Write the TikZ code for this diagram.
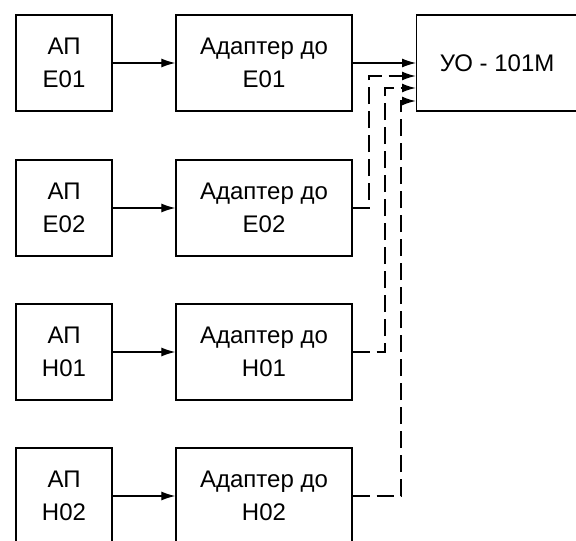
\documentclass[tikz,border=0pt]{standalone}
\usepackage{fontspec}
\setmainfont{Liberation Sans}
\usetikzlibrary{arrows.meta,calc}

\begin{document}
\begin{tikzpicture}[
    x=1pt, y=-1pt,
    block/.style={draw=black, line width=1.3pt, rectangle, minimum height=96pt, inner sep=0pt, align=center, font=\fontsize{24}{33}\selectfont},
    apbox/.style={block, minimum width=96pt},
    adbox/.style={block, minimum width=176pt},
    link/.style={-{Latex[length=14pt,width=9pt]}, line width=1.2pt},
    dlink/.style={link, line width=1.8pt, dash pattern=on 17pt off 7pt}
]
\useasboundingbox (0,0) rectangle (576,541);

% Sources
\node[apbox] (ape01) at (64,63) {АП\\E01};
\node[apbox] (ape02) at (64,208) {АП\\E02};
\node[apbox] (aph01) at (64,352) {АП\\H01};
\node[apbox] (aph02) at (64,496) {АП\\H02};

% Adapters
\node[adbox] (ade01) at (264,63) {Адаптер до\\E01};
\node[adbox] (ade02) at (264,208) {Адаптер до\\E02};
\node[adbox] (adh01) at (264,352) {Адаптер до\\H01};
\node[adbox] (adh02) at (264,496) {Адаптер до\\H02};

% Receiver
\node[block, minimum width=162pt, anchor=west] (uo) at (416,63) {\hspace*{-1pt}УО - 101М};

% Links
\draw[link] (ape01) -- (ade01);
\draw[link] (ape02) -- (ade02);
\draw[link] (aph01) -- (adh01);
\draw[link] (aph02) -- (adh02);
\draw[link] (ade01) -- (uo.west);
\draw[dlink] (ade02.east) -- ++(16,0) |- ($(uo.west)+(0,13)$);
\draw[dlink] (adh01.east) -- ++(32,0) |- ($(uo.west)+(0,25)$);
\draw[dlink] (adh02.east) -- ++(48,0) |- ($(uo.west)+(0,38)$);

\end{tikzpicture}
\end{document}
